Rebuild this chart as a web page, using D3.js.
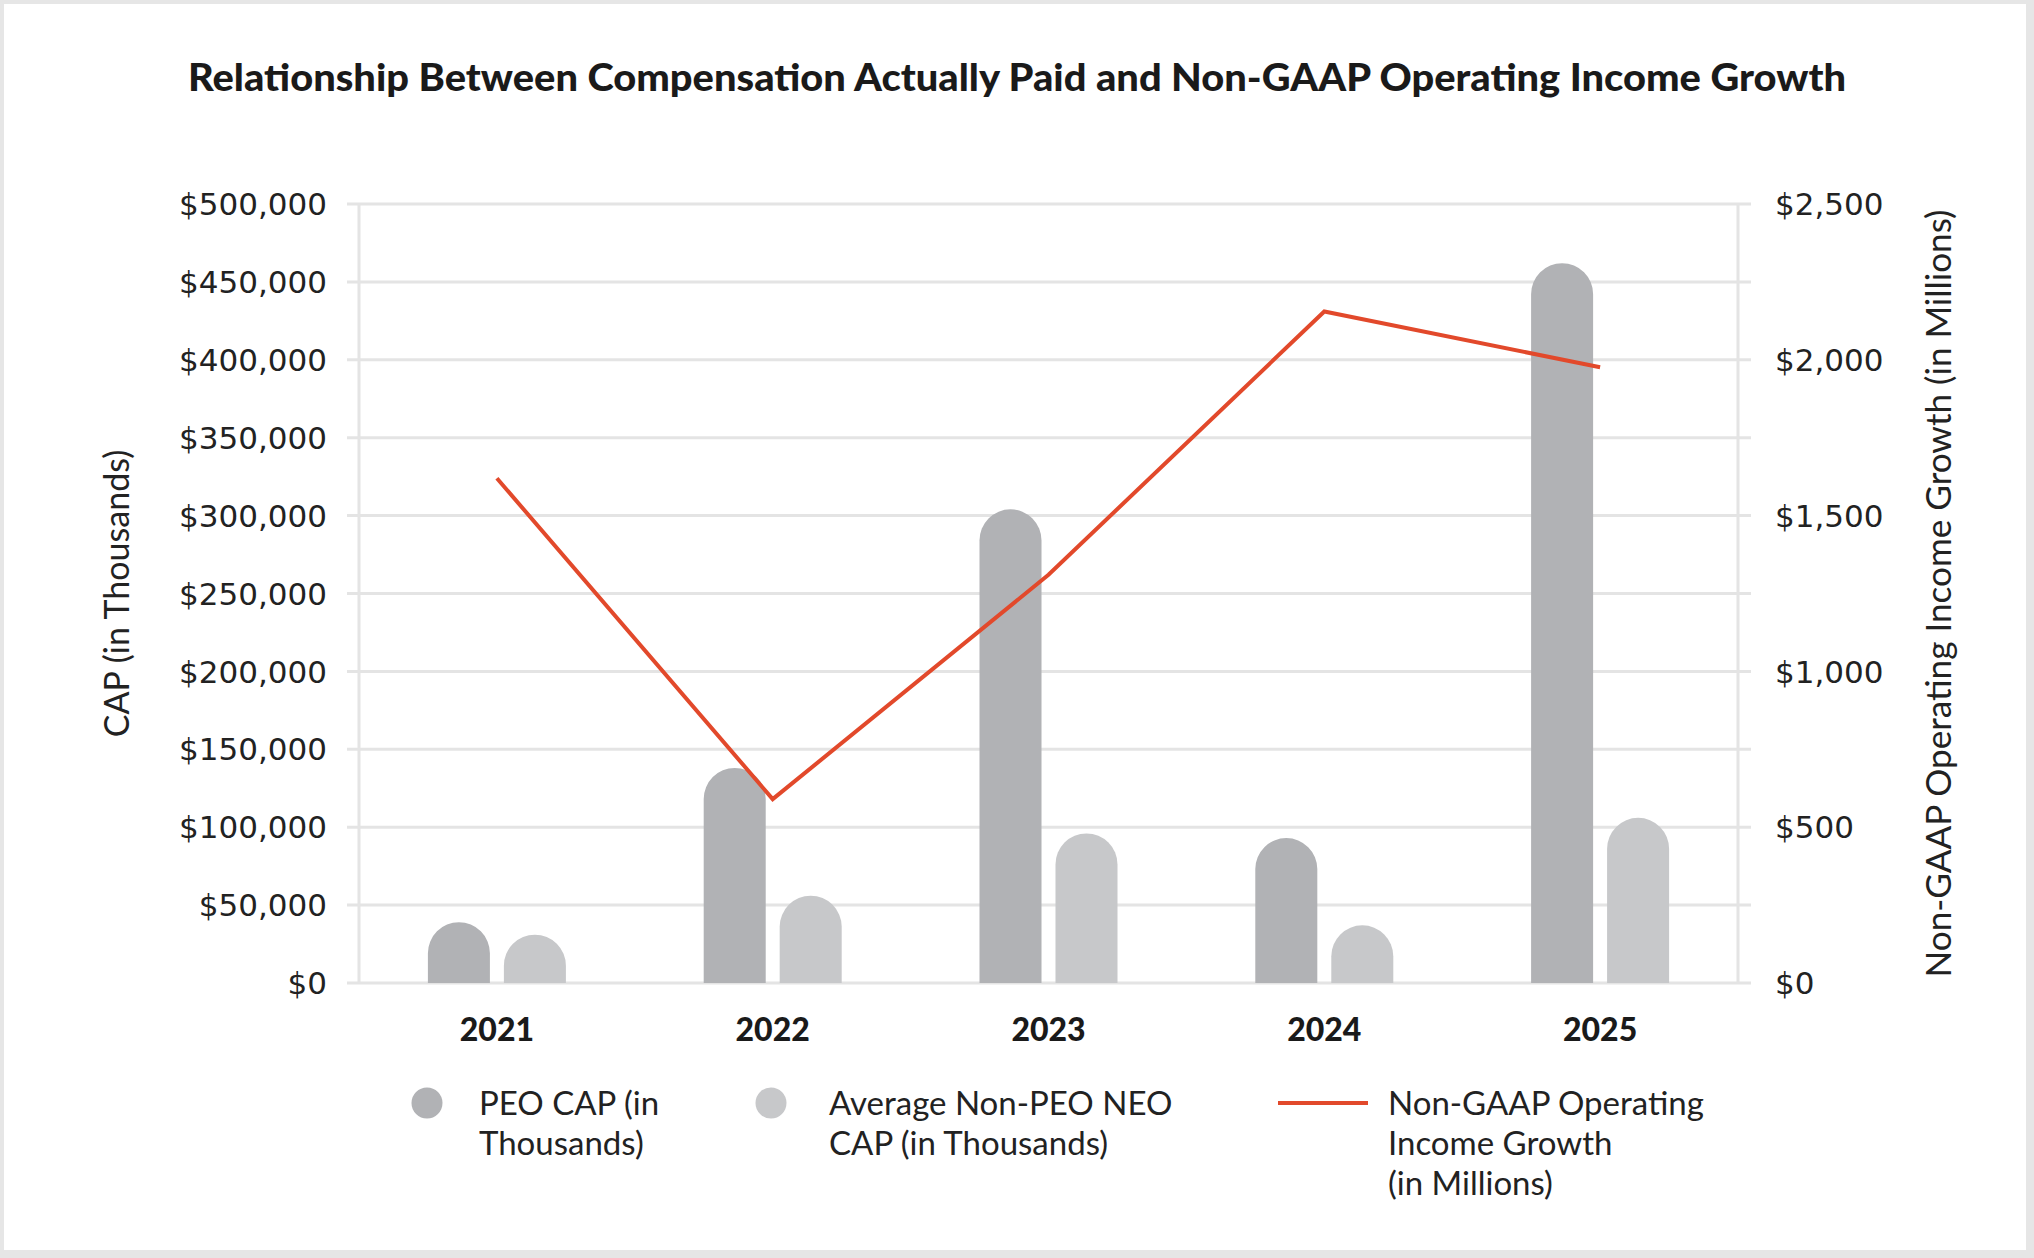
<!DOCTYPE html>
<html>
<head>
<meta charset="utf-8">
<script src="https://cdn.jsdelivr.net/npm/d3@7"></script>
<style>
  body { margin: 0; background: #fff; }
  svg { display: block; }
</style>
</head>
<body>
<div id="figure-holder"></div>
<script>
// chart values
const years = ['2021', '2022', '2023', '2024', '2025'];
const peoCap = [39000, 138000, 304000, 93000, 462000];      // PEO CAP (in Thousands)
const nonPeoCap = [31000, 56000, 96000, 37000, 106000];     // Average Non-PEO NEO CAP
const opIncome = [1620, 590, 1310, 2155, 1976];             // Non-GAAP op. income growth (in Millions)
const leftTicks = [0, 50000, 100000, 150000, 200000, 250000, 300000, 350000, 400000, 450000, 500000];
const rightTicks = [0, 500, 1000, 1500, 2000, 2500];
const seriesKeys = ['peo', 'nonPeo'];

const W = 2034, H = 1258;
const plot = { left: 359, right: 1738, top: 204, bottom: 983 };
const colors = { peo: '#b1b2b5', nonPeo: '#c7c8ca', line: '#e2492b', grid: '#e4e4e4' };
const tickFont = '"DejaVu Sans", sans-serif';
const textFont = 'Lato, "Open Sans", sans-serif';

const svg = d3.select('#figure-holder').append('svg')
    .attr('width', W)
    .attr('height', H);

// light frame around the chart
svg.append('rect').attr('width', W).attr('height', H).style('fill', '#e6e6e6');
svg.append('rect').attr('x', 4).attr('y', 4).attr('width', W - 12).attr('height', H - 12).style('fill', '#fff');

// title
svg.append('text')
    .text('Relationship Between Compensation Actually Paid and Non-GAAP Operating Income Growth')
    .attr('x', 1017)
    .attr('y', 91)
    .attr('text-anchor', 'middle')
    .attr('textLength', 1658)
    .attr('lengthAdjust', 'spacingAndGlyphs')
    .style('font-family', textFont)
    .style('font-weight', 900)
    .style('font-size', '38px')
    .style('fill', '#1a1a1a');

const x = d3.scaleBand()
    .domain(years)
    .range([plot.left, plot.right]);

const xInner = d3.scaleBand()
    .domain(seriesKeys)
    .range([-69, 69])
    .paddingInner(0.184);

const yLeft = d3.scaleLinear()
    .domain([0, 500000])
    .range([plot.bottom, plot.top]);

const yRight = d3.scaleLinear()
    .domain([0, 2500])
    .range([plot.bottom, plot.top]);

// gridlines
svg.append('g')
    .selectAll('line')
    .data(leftTicks)
    .join('line')
    .attr('x1', plot.left - 12)
    .attr('x2', plot.right + 13)
    .attr('y1', d => yLeft(d))
    .attr('y2', d => yLeft(d))
    .style('stroke', colors.grid)
    .style('stroke-width', 3);

// vertical frame lines of the plot
svg.append('g')
    .selectAll('line')
    .data([plot.left, plot.right])
    .join('line')
    .attr('x1', d => d)
    .attr('x2', d => d)
    .attr('y1', yLeft(500000))
    .attr('y2', yLeft(0))
    .style('stroke', colors.grid)
    .style('stroke-width', 3);

// left tick labels
const fmt = d3.format('$,');
svg.append('g')
    .selectAll('text')
    .data(leftTicks)
    .join('text')
    .text(d => fmt(d))
    .attr('x', 327)
    .attr('y', d => yLeft(d))
    .attr('dy', '0.36em')
    .attr('text-anchor', 'end')
    .style('font-family', tickFont)
    .style('font-size', '31px')
    .style('fill', '#222');

// right tick labels
svg.append('g')
    .selectAll('text')
    .data(rightTicks)
    .join('text')
    .text(d => fmt(d))
    .attr('x', 1775)
    .attr('y', d => yRight(d))
    .attr('dy', '0.36em')
    .style('font-family', tickFont)
    .style('font-size', '31px')
    .style('fill', '#222');

// axis titles
svg.append('text')
    .text('CAP (in Thousands)')
    .attr('transform', `translate(129, ${(plot.top + plot.bottom) / 2}) rotate(-90)`)
    .attr('text-anchor', 'middle')
    .style('font-family', textFont)
    .style('font-size', '34px')
    .style('fill', '#222');

svg.append('text')
    .text('Non-GAAP Operating Income Growth (in Millions)')
    .attr('transform', `translate(1951, ${(plot.top + plot.bottom) / 2}) rotate(-90)`)
    .attr('text-anchor', 'middle')
    .attr('textLength', 768)
    .attr('lengthAdjust', 'spacingAndGlyphs')
    .style('font-family', textFont)
    .style('font-size', '35px')
    .style('fill', '#222');

// bars with rounded tops
const roundTop = (bx, by, bw, bh) => {
    const r = Math.min(bw / 2, bh);
    const base = by + bh;
    return `M${bx},${base}V${by + r}A${bw / 2},${r} 0 0 1 ${bx + bw},${by + r}V${base}Z`;
};

const barData = [];
years.forEach((yr, i) => {
    barData.push({ year: yr, key: 'peo', value: peoCap[i] });
    barData.push({ year: yr, key: 'nonPeo', value: nonPeoCap[i] });
});

svg.append('g')
    .selectAll('path')
    .data(barData)
    .join('path')
    .attr('d', d => {
        const bx = x(d.year) + x.bandwidth() / 2 + xInner(d.key);
        const by = yLeft(d.value);
        return roundTop(bx, by, xInner.bandwidth(), yLeft(0) - by);
    })
    .style('fill', d => colors[d.key]);

// operating income line
const line = d3.line()
    .x((d, i) => x(years[i]) + x.bandwidth() / 2)
    .y(d => yRight(d));

svg.append('path')
    .datum(opIncome)
    .attr('d', line)
    .style('fill', 'none')
    .style('stroke', colors.line)
    .style('stroke-width', 4)
    .style('stroke-linejoin', 'miter');

// year labels
svg.append('g')
    .selectAll('text')
    .data(years)
    .join('text')
    .text(d => d)
    .attr('x', d => x(d) + x.bandwidth() / 2)
    .attr('y', 1041)
    .attr('text-anchor', 'middle')
    .style('font-family', textFont)
    .style('font-weight', 900)
    .style('font-size', '32px')
    .style('fill', '#1a1a1a');

// legend
const legend = svg.append('g');
const lineH = 40;
const legendItems = [
    { type: 'dot', color: colors.peo, mx: 427, tx: 479, lines: ['PEO CAP (in', 'Thousands)'] },
    { type: 'dot', color: colors.nonPeo, mx: 771, tx: 829, lines: ['Average Non-PEO NEO', 'CAP (in Thousands)'] },
    { type: 'line', color: colors.line, mx: 1323, tx: 1388, lines: ['Non-GAAP Operating', 'Income Growth', '(in Millions)'] }
];
const ly = 1103;
legendItems.forEach(item => {
    if (item.type === 'dot') {
        legend.append('circle')
            .attr('cx', item.mx)
            .attr('cy', ly)
            .attr('r', 15.5)
            .style('fill', item.color);
    } else {
        legend.append('line')
            .attr('x1', item.mx - 45)
            .attr('x2', item.mx + 45)
            .attr('y1', ly)
            .attr('y2', ly)
            .style('stroke', item.color)
            .style('stroke-width', 4);
    }
    legend.append('g')
        .selectAll('text')
        .data(item.lines)
        .join('text')
        .text(d => d)
        .attr('x', item.tx)
        .attr('y', (d, i) => ly + i * lineH)
        .attr('dy', '0.36em')
        .style('font-family', textFont)
        .style('font-size', '33px')
        .style('fill', '#222');
});
</script>
</body>
</html>
